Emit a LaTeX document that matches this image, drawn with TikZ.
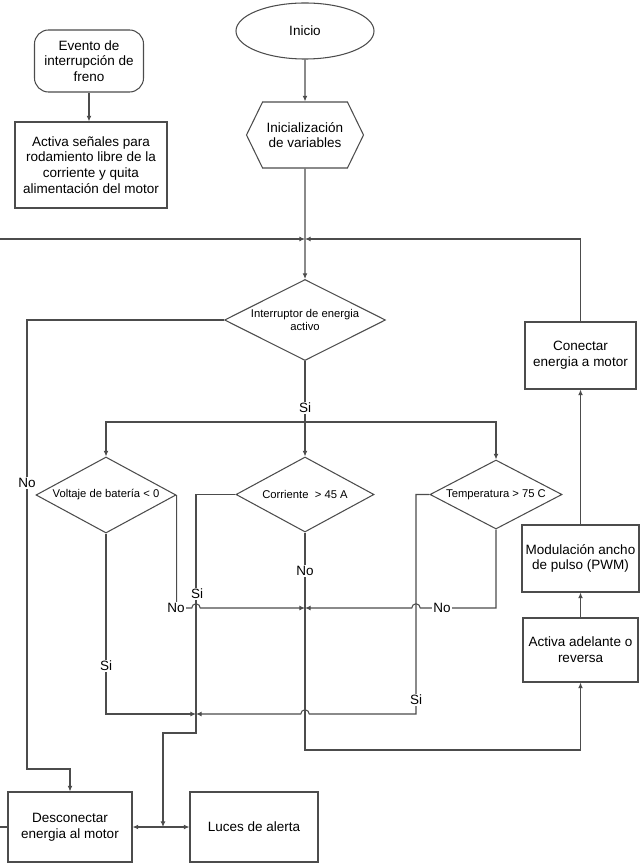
\documentclass[tikz,border=0pt]{standalone}
\usepackage{fontspec}
\setmainfont{Liberation Sans}
\usetikzlibrary{shapes.geometric,shapes.symbols,arrows.meta}

\begin{document}
\begin{tikzpicture}[x=0.025cm,y=-0.025cm,
    every node/.style={font=\fontsize{9.6}{11.2}\selectfont, align=center},
    line/.style={draw=black!70, line width=0.75pt},
    flow/.style={line, -{Latex[length=4pt,width=3.5pt]}},
    box/.style={draw=black!70, line width=0.75pt, rectangle, inner sep=2pt},
    terminal/.style={box, ellipse},
    event/.style={box, rounded corners=10pt},
    prep/.style={box, signal, signal to=west and east, signal pointer angle=128},
    decision/.style={box, diamond, aspect=2, inner sep=0pt,
      font=\fontsize{8}{9.5}\selectfont},
    lbl/.style={fill=white, inner sep=1pt}]
    \path[use as bounding box] (0,0) rectangle (641,866);

    % Main column: start, set-up and the power switch test.
    \node[terminal, minimum width=3.45cm, minimum height=1.4cm] (inicio) at (305,31) {Inicio};
    \node[prep, minimum width=2.925cm, minimum height=1.65cm] (init) at (305,135) {Inicialización\\de variables};
    \node[decision, minimum width=4.025cm, minimum height=2.025cm] (interruptor) at (305,320) {Interruptor de energia\\activo};

    % Brake interrupt runs on its own.
    \node[event, minimum width=2.725cm, minimum height=1.55cm] (evento) at (89,61) {Evento de\\interrupción de\\freno};
    \node[box, minimum width=3.8cm, minimum height=2.15cm] (senales) at (91,165) {Activa señales para\\rodamiento libre de la\\corriente y quita\\alimentación del motor};

    % The three fault checks.
    \node[decision, minimum width=3.5cm, minimum height=1.9cm] (voltaje) at (106,495) {Voltaje de batería < 0};
    \node[decision, minimum width=3.45cm, minimum height=1.875cm] (corriente) at (305,494.5) {Corriente\ \ > 45 A};
    \node[decision, minimum width=3.3cm, minimum height=1.725cm] (temperatura) at (496,494.5) {Temperatura > 75 C};

    % Drive chain on the right.
    \node[box, minimum width=2.775cm, minimum height=1.675cm] (conectar) at (580.5,355.5) {Conectar\\energia a motor};
    \node[box, minimum width=2.925cm, minimum height=1.675cm] (pwm) at (580.5,558.5) {Modulación ancho\\de pulso (PWM)};
    \node[box, minimum width=2.875cm, minimum height=1.6cm] (sentido) at (580.5,650) {Activa adelante o\\reversa};

    % Fault outputs.
    \node[box, minimum width=3.1cm, minimum height=1.75cm] (desconectar) at (70,827) {Desconectar\\energia al motor};
    \node[box, minimum width=3.2cm, minimum height=1.75cm] (luces) at (254,827) {Luces de alerta};

    % Bends, joins and line hops.
    \coordinate (merge) at (305,239);
    \coordinate (loopin) at (0,239);
    \coordinate (nobend) at (27,769);
    \coordinate (split) at (305,422);
    \coordinate (run) at (305,608);
    \coordinate (alarm) at (196,714);
    \coordinate (alarmdrop) at (196,733);
    \coordinate (join) at (163,827);
    \coordinate (fwd) at (305,750);
    \coordinate (tsi) at (416,714);
    \coordinate (offleft) at (0,827);
    \coordinate (hopA) at (196,608);
    \coordinate (hopB) at (416,608);
    \coordinate (hopC) at (305,714);

    \draw[flow] (inicio) -- (init);
    \draw[flow] (init) -- (interruptor);
    \draw[flow] (loopin) -- (merge);
    \draw[flow] (conectar) |- (merge);
    \draw[flow] (evento) -- (evento |- senales.north);
    \draw[flow] (interruptor.west) -| (nobend) -| (desconectar.north);
    \draw[line] (interruptor) -- (split);
    \draw[flow] (split) -| (voltaje.north);
    \draw[flow] (split) -- (corriente);
    \draw[flow] (split) -| (temperatura.north);
    \draw[flow] (voltaje.south) |- (alarm);
    \draw[flow] (voltaje.east) |- ([xshift=-3pt]hopA)
      arc[start angle=180,end angle=0,radius=3pt] -- (run);
    \draw[flow] (temperatura.south) |- ([xshift=3pt]hopB)
      arc[start angle=0,end angle=180,radius=3pt] -- (run);
    \draw[flow] (temperatura.west) -| (tsi) -- ([xshift=3pt]hopC)
      arc[start angle=0,end angle=180,radius=3pt] -- (alarm);
    \draw[flow] (corriente.west) -| (alarmdrop) -| (join);
    \draw[flow] (corriente) -- (fwd) -| (sentido);
    \draw[flow] (join) -- (desconectar);
    \draw[flow] (join) -- (luces);
    \draw[line] (offleft) -- (desconectar);
    \draw[flow] (sentido) -- (pwm);
    \draw[flow] (pwm) -- (conectar);

    % Branch labels sit on the lines.
    \node[lbl] (siswitch) at (305,408) {Si};
    \node[lbl] (noswitch) at (27,483) {No};
    \node[lbl] (sivolt) at (106,666) {Si};
    \node[lbl] (novolt) at (176,608) {No};
    \node[lbl] (sicurr) at (197,594) {Si};
    \node[lbl] (nocurr) at (305,571) {No};
    \node[lbl] (notemp) at (442,608) {No};
    \node[lbl] (sitemp) at (416,700) {Si};
  \end{tikzpicture}
\end{document}
